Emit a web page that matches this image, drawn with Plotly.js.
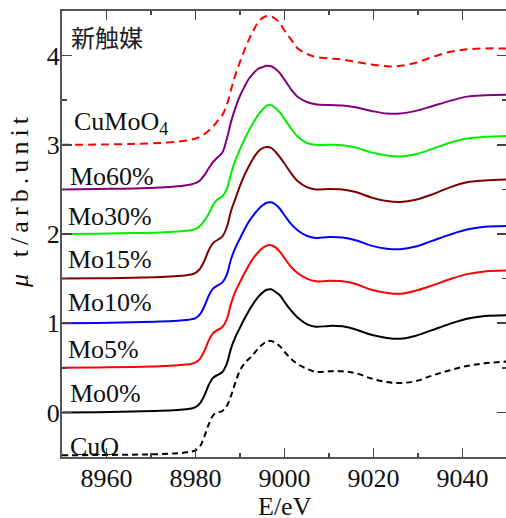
<!DOCTYPE html>
<html>
<head>
<meta charset="utf-8">
<script src="https://cdn.plot.ly/plotly-3.0.1.min.js"></script>
<style>
html,body{margin:0;padding:0;background:#fff;overflow:hidden;}
#chart{width:507px;height:518px;}
</style>
</head>
<body>
<div id="chart"></div>
<script>
// Energy grid (eV)
const energy = [8950, 8958, 8966, 8972, 8976, 8978, 8979, 8980, 8981, 8982, 8983, 8984, 8985, 8986, 8987, 8988, 8989, 8990, 8991, 8992, 8993, 8994, 8995, 8996, 8997, 8998, 8999, 9000, 9001.5, 9003, 9005, 9007, 9010, 9013, 9016, 9019.5, 9023, 9026, 9029.5, 9033, 9037, 9041, 9045, 9050];

// Spectra (values as drawn, i.e. including the vertical stacking)
const cuO    = [-0.48, -0.478, -0.474, -0.468, -0.458, -0.448, -0.44, -0.425, -0.38, -0.27, -0.13, -0.03, 0.00, 0.015, 0.07, 0.19, 0.34, 0.47, 0.55, 0.60, 0.65, 0.71, 0.76, 0.795, 0.80, 0.78, 0.74, 0.68, 0.60, 0.54, 0.49, 0.455, 0.46, 0.46, 0.44, 0.38, 0.34, 0.33, 0.35, 0.41, 0.47, 0.52, 0.55, 0.57];
const mo0    = [0.000, 0.003, 0.010, 0.018, 0.028, 0.036, 0.043, 0.058, 0.10, 0.19, 0.31, 0.39, 0.42, 0.45, 0.54, 0.72, 0.85, 0.95, 1.05, 1.14, 1.22, 1.29, 1.34, 1.375, 1.38, 1.35, 1.31, 1.24, 1.14, 1.06, 0.99, 0.96, 0.97, 0.965, 0.93, 0.87, 0.835, 0.825, 0.86, 0.92, 0.99, 1.05, 1.08, 1.09];
const mo5    = [0.50, 0.503, 0.51, 0.518, 0.528, 0.536, 0.543, 0.56, 0.60, 0.69, 0.81, 0.89, 0.925, 0.955, 1.04, 1.22, 1.36, 1.46, 1.56, 1.65, 1.73, 1.79, 1.84, 1.87, 1.875, 1.85, 1.80, 1.73, 1.63, 1.56, 1.50, 1.47, 1.475, 1.47, 1.44, 1.375, 1.34, 1.33, 1.365, 1.42, 1.49, 1.55, 1.58, 1.59];
const mo10   = [1.00, 1.003, 1.01, 1.018, 1.028, 1.036, 1.043, 1.058, 1.10, 1.19, 1.31, 1.39, 1.425, 1.455, 1.54, 1.72, 1.85, 1.95, 2.05, 2.14, 2.21, 2.27, 2.32, 2.35, 2.355, 2.33, 2.28, 2.21, 2.11, 2.04, 1.98, 1.955, 1.965, 1.96, 1.93, 1.87, 1.835, 1.83, 1.86, 1.92, 1.99, 2.05, 2.08, 2.09];
const mo15   = [1.50, 1.503, 1.51, 1.518, 1.528, 1.538, 1.546, 1.565, 1.61, 1.70, 1.82, 1.90, 1.935, 1.97, 2.07, 2.26, 2.40, 2.54, 2.66, 2.76, 2.85, 2.92, 2.96, 2.975, 2.965, 2.92, 2.86, 2.79, 2.68, 2.59, 2.525, 2.50, 2.505, 2.50, 2.47, 2.41, 2.37, 2.36, 2.385, 2.44, 2.52, 2.58, 2.60, 2.61];
const mo30   = [2.00, 2.003, 2.01, 2.018, 2.028, 2.036, 2.043, 2.058, 2.09, 2.15, 2.23, 2.33, 2.39, 2.42, 2.50, 2.68, 2.83, 2.95, 3.06, 3.16, 3.25, 3.33, 3.39, 3.44, 3.445, 3.41, 3.36, 3.29, 3.18, 3.09, 3.02, 3.00, 3.00, 2.995, 2.97, 2.915, 2.88, 2.87, 2.895, 2.95, 3.02, 3.07, 3.09, 3.10];
const mo60   = [2.50, 2.505, 2.51, 2.52, 2.535, 2.548, 2.556, 2.57, 2.60, 2.66, 2.74, 2.81, 2.86, 2.91, 3.06, 3.26, 3.42, 3.55, 3.65, 3.74, 3.80, 3.85, 3.87, 3.885, 3.88, 3.85, 3.80, 3.73, 3.62, 3.535, 3.48, 3.455, 3.445, 3.44, 3.42, 3.38, 3.35, 3.35, 3.38, 3.43, 3.49, 3.54, 3.555, 3.56];
const cuMoO4 = [3.00, 3.003, 3.01, 3.02, 3.035, 3.048, 3.057, 3.07, 3.09, 3.12, 3.16, 3.21, 3.27, 3.33, 3.44, 3.62, 3.79, 3.93, 4.06, 4.18, 4.28, 4.37, 4.42, 4.445, 4.44, 4.41, 4.36, 4.28, 4.18, 4.08, 4.02, 3.985, 3.97, 3.955, 3.93, 3.90, 3.88, 3.885, 3.92, 3.98, 4.04, 4.07, 4.08, 4.08];

const seriesNames = ["CuO", "Mo0%", "Mo5%", "Mo10%", "Mo15%", "Mo30%", "Mo60%", "CuMoO<sub>4</sub>"];
const seriesData  = [cuO, mo0, mo5, mo10, mo15, mo30, mo60, cuMoO4];
const seriesColors = ["#000000", "#000000", "#ff0000", "#0000ff", "#800000", "#00ee00", "#800080", "#ff0000"];
const seriesDash   = ["6px,4px", "solid", "solid", "solid", "solid", "solid", "solid", "8px,5px"];
// label anchor positions (data coords)
const labelX = [8951.3, 8951.3, 8950.9, 8950.9, 8950.9, 8950.9, 8951.3, 8952.2];
const labelY = [-0.38, 0.21, 0.71, 1.23, 1.71, 2.20, 2.64, 3.25];

const traces = seriesData.map((ys, i) => ({
  x: energy, y: ys, type: 'scatter', mode: 'lines',
  line: {color: seriesColors[i], width: 2, dash: seriesDash[i], shape: 'spline', smoothing: 1},
  showlegend: false, hoverinfo: 'skip'
}));

const serif = 'Liberation Serif';
const annotations = seriesNames.map((n, i) => ({
  x: labelX[i], y: labelY[i], xref: 'x', yref: 'y', text: n,
  showarrow: false, xanchor: 'left', yanchor: 'middle',
  font: {family: serif, size: 26, color: '#111'}
}));
annotations.push({x: 8951.6, y: 4.21, xref: 'x', yref: 'y', text: '新触媒', showarrow: false,
  xanchor: 'left', yanchor: 'middle', font: {family: 'Noto Sans CJK JP', size: 24, color: '#222'}});
annotations.push({x: 0.5, y: -0.11, xref: 'paper', yref: 'paper', text: 'E/eV', showarrow: false,
  xanchor: 'center', yanchor: 'middle', font: {family: serif, size: 26, color: '#111'}});
annotations.push({x: -0.094, y: 0.572, xref: 'paper', yref: 'paper', text: '<i>μ</i> t/arb.unit', showarrow: false,
  textangle: -90, xanchor: 'center', yanchor: 'middle', font: {family: serif, size: 26, color: '#111'}});

function axis(extra) {
  return Object.assign({
    showgrid: false, zeroline: false, showline: true, linecolor: '#555', linewidth: 2,
    mirror: 'ticks', ticks: 'inside', tickcolor: '#444', tickwidth: 1.5,
    tickfont: {family: serif, size: 26, color: '#111'}
  }, extra);
}

const layout = {
  width: 507, height: 518,
  margin: {l: 62, r: 0, t: 11, b: 61},
  font: {family: serif, size: 26, color: '#111'},
  paper_bgcolor: '#fff', plot_bgcolor: '#fff',
  xaxis: axis({range: [8950, 9050], tick0: 8960, dtick: 20, ticklen: 9, ticklabelstandoff: -3,
    minor: {dtick: 10, tick0: 8950, ticklen: 4, ticks: 'inside', tickcolor: '#444', tickwidth: 1.5}}),
  yaxis: axis({range: [-0.5, 4.5], tick0: 0, dtick: 1, ticklen: 10, ticklabelstandoff: -5,
    minor: {dtick: 0.5, tick0: 0, ticklen: 5, ticks: 'inside', tickcolor: '#444', tickwidth: 1.5}}),
  annotations: annotations
};

Plotly.newPlot('chart', traces, layout, {displayModeBar: false, staticPlot: true}).then(() => {
  // the original y title is typeset with wide letter spacing
  document.querySelectorAll('text.annotation-text').forEach(t => {
    if (t.textContent.indexOf('arb') >= 0) {
      t.setAttribute('textLength', '170');
      t.setAttribute('lengthAdjust', 'spacing');
    }
  });
});
</script>
</body>
</html>
